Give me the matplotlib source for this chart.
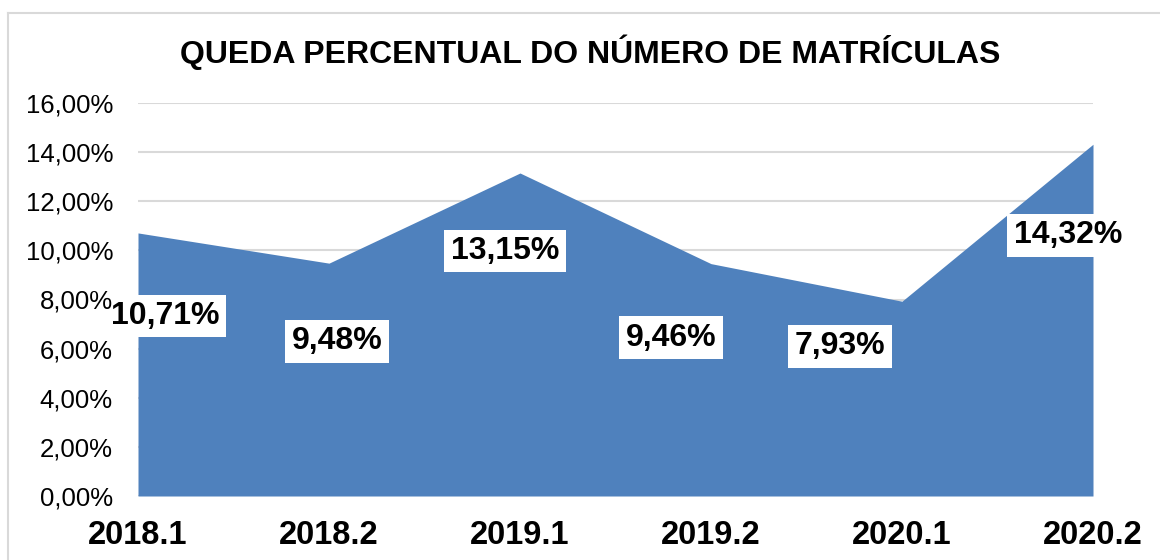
import matplotlib
matplotlib.use("Agg")
import matplotlib.pyplot as plt
from matplotlib.lines import Line2D
from matplotlib.ticker import FixedLocator

plt.rcParams['font.family'] = ['Liberation Sans', 'DejaVu Sans']

categories = ["2018.1", "2018.2", "2019.1", "2019.2", "2020.1", "2020.2"]
values = [10.71, 9.48, 13.15, 9.46, 7.93, 14.32]
value_labels = ["10,71%", "9,48%", "13,15%", "9,46%", "7,93%", "14,32%"]
y_ticks = [0, 2, 4, 6, 8, 10, 12, 14, 16]
y_tick_labels = ["0,00%", "2,00%", "4,00%", "6,00%", "8,00%", "10,00%", "12,00%", "14,00%", "16,00%"]
title = "QUEDA PERCENTUAL DO NÚMERO DE MATRÍCULAS"

# label offsets in pixels (style only)
label_offsets = [(27, -83), (8, -78), (-15, -78), (-40, -74), (-62, -45), (-25, -91)]

W, H = 1160, 560
fig = plt.figure(figsize=(W / 100, H / 100), dpi=100)
ax = fig.add_axes([138 / W, 1 - 496 / H, (1093 - 138) / W, (496 - 103) / H])

x = list(range(len(categories)))
ax.fill_between(x, values, 0, color="#4F81BD", linewidth=0, zorder=2)

ax.set_xlim(0, len(categories) - 1)
ax.set_ylim(0, 16)
ax.yaxis.set_major_locator(FixedLocator(y_ticks))
ax.set_yticklabels(y_tick_labels)
ax.set_xticks(x)
ax.set_xticklabels(categories, fontsize=23.5, fontweight="bold")
ax.tick_params(axis="y", length=0, labelsize=18.5, pad=18)
ax.tick_params(axis="x", length=0, pad=17)

# gridlines drawn below the area; axis (tick labels) on top of label boxes
for t in y_ticks:
    ax.axhline(t, color="#D9D9D9", linewidth=1.5, zorder=1)
ax.grid(False)
ax.xaxis.set_zorder(10)
ax.yaxis.set_zorder(10)
for s in ["top", "right", "left", "bottom"]:
    ax.spines[s].set_visible(False)

for xi, v, lab, off in zip(x, values, value_labels, label_offsets):
    ax.annotate(lab, (xi, v), xytext=off, textcoords="offset pixels",
                ha="center", va="center", fontsize=23, fontweight="bold",
                color="black", zorder=5, annotation_clip=False,
                bbox=dict(boxstyle="square,pad=0.2", facecolor="white", edgecolor="none"))

fig.text(590 / W, 1 - 52 / H, title, ha="center", va="center",
         fontsize=23, fontweight="bold", color="black")

# outer chart border (partially cut like the reference)
fig.add_artist(Line2D([8 / W, 8 / W], [0, 1 - 13 / H], transform=fig.transFigure,
                      color="#D9D9D9", linewidth=1.5))
fig.add_artist(Line2D([8 / W, 1], [1 - 13 / H, 1 - 13 / H], transform=fig.transFigure,
                      color="#D9D9D9", linewidth=1.5))

fig.savefig("out.png", dpi=100, facecolor="white")
